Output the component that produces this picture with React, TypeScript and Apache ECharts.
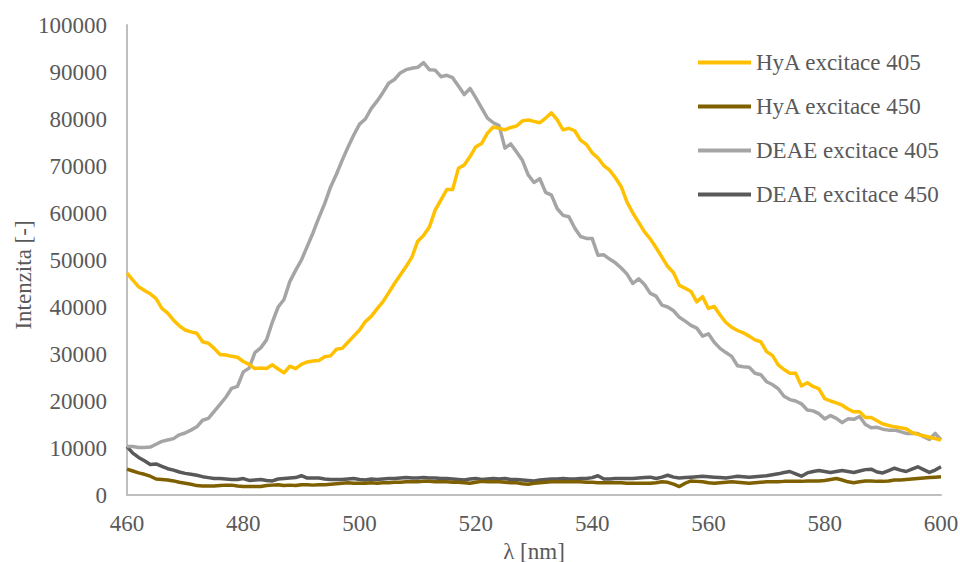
import React, { useEffect, useRef } from "react";
import * as echarts from "echarts";

const wavelengths: number[] = [];
for (let w = 460; w <= 600; w++) wavelengths.push(w);

const seriesNames = ["HyA excitace 405", "HyA excitace 450", "DEAE excitace 405", "DEAE excitace 450"];

const hyA405 = [
  47200, 45700, 44300, 43500, 42800, 41800, 39700, 38700, 37200, 36000,
  35100, 34700, 34400, 32600, 32300, 31200, 29900, 29800, 29500, 29300,
  28400, 27800, 26900, 27000, 26900, 27700, 26800, 26000, 27400, 26900,
  27800, 28300, 28500, 28600, 29400, 29600, 31000, 31200, 32500, 33800,
  35100, 36900, 38000, 39600, 41100, 43000, 45000, 46800, 48600, 50600,
  54000, 55200, 57000, 60600, 62800, 65000, 65000, 69500, 70200, 72000,
  74100, 74800, 77000, 78300, 78000, 77700, 78200, 78500, 79600, 79800,
  79500, 79200, 80200, 81300, 79800, 77700, 78000, 77500, 75500, 74600,
  72800, 71700, 70100, 69100, 67500, 65600, 62300, 60000, 58000, 56000,
  54500, 52600, 50600, 48600, 47300, 44600, 44000, 43300, 41100, 42200,
  39700, 40100, 38300, 36700, 35700, 35000, 34500, 33800, 33000, 32600,
  30500, 29700, 27700, 26700, 25900, 25900, 23200, 23900, 23100, 22600,
  20500, 20000, 19600, 19100, 18300, 17700, 17700, 16500, 16500, 15800,
  15100, 14800, 14500, 14300, 14100, 13300, 12900, 12600, 12300, 12000,
  11700,
];

const hyA450 = [
  5500, 5100, 4700, 4400, 4000, 3400, 3300, 3200, 3000, 2700,
  2500, 2300, 2000, 1900, 1900, 1900, 2000, 2100, 2100, 1900,
  1800, 1800, 1800, 1800, 2000, 2100, 2200, 2000, 2100, 2000,
  2200, 2200, 2100, 2200, 2200, 2300, 2400, 2500, 2600, 2500,
  2500, 2500, 2600, 2500, 2600, 2600, 2700, 2700, 2800, 2800,
  2800, 2900, 2900, 2800, 2800, 2800, 2700, 2700, 2600, 2500,
  2700, 2900, 2800, 2800, 2800, 2700, 2600, 2600, 2400, 2300,
  2500, 2600, 2700, 2800, 2800, 2800, 2800, 2800, 2800, 2700,
  2700, 2600, 2600, 2600, 2600, 2600, 2500, 2500, 2500, 2500,
  2500, 2600, 2800, 2700, 2300, 1800, 2500, 3000, 2900, 2800,
  2600, 2500, 2600, 2700, 2800, 2700, 2600, 2500, 2600, 2700,
  2800, 2800, 2800, 2900, 2900, 2900, 2900, 3000, 3000, 3000,
  3100, 3300, 3500, 3200, 2800, 2600, 2800, 3000, 3000, 2900,
  2900, 3000, 3200, 3200, 3300, 3400, 3500, 3600, 3700, 3800,
  3900,
];

const deae405 = [
  10300, 10300, 10100, 10100, 10200, 10800, 11400, 11700, 12000, 12800,
  13200, 13800, 14500, 15900, 16300, 17800, 19300, 20800, 22700, 23100,
  26200, 27000, 30300, 31300, 33000, 36800, 40000, 41600, 45400, 47800,
  50000, 52900, 55800, 59000, 62000, 65500, 68200, 71200, 74000, 76600,
  78900, 80000, 82200, 83800, 85600, 87600, 88400, 89800, 90500, 90800,
  91000, 92000, 90500, 90400, 89000, 89300, 88800, 87000, 85200, 86500,
  84500, 82300, 80200, 79200, 78600, 73800, 74700, 73000, 71200, 68100,
  66500, 67300, 64400, 63800, 60900, 59500, 59200, 56800, 55000, 54600,
  54600, 51000, 51100, 50200, 49400, 48300, 47000, 45000, 46000, 44800,
  42900, 42300, 40400, 40000, 39200, 37800, 37000, 36100, 35500, 33800,
  34300, 32500, 31200, 30300, 29500, 27500, 27300, 27200, 25900, 25600,
  24100, 23500, 22600, 21000, 20300, 20000, 19400, 18100, 17900, 17300,
  16200, 16900, 16300, 15400, 16200, 16100, 16700, 15000, 14300, 14400,
  14000, 13800, 13800, 13500, 13100, 13100, 13100, 12400, 11800, 13100,
  11700,
];

const deae450 = [
  10300, 8900, 8000, 7300, 6500, 6600, 6100, 5600, 5300, 4900,
  4600, 4400, 4200, 3900, 3700, 3500, 3500, 3400, 3300, 3300,
  3500, 3100, 3200, 3300, 3100, 3000, 3400, 3500, 3600, 3700,
  4100, 3600, 3600, 3600, 3400, 3300, 3300, 3300, 3400, 3500,
  3300, 3200, 3400, 3300, 3400, 3500, 3500, 3600, 3700, 3600,
  3600, 3700, 3600, 3600, 3500, 3500, 3400, 3300, 3200, 3400,
  3500, 3300, 3400, 3500, 3400, 3500, 3300, 3300, 3200, 3100,
  3000, 3200, 3300, 3400, 3400, 3500, 3400, 3400, 3500, 3500,
  3700, 4100, 3400, 3400, 3500, 3500, 3500, 3500, 3600, 3700,
  3800, 3500, 3800, 4200, 3800, 3600, 3700, 3800, 3900, 4000,
  3900, 3800, 3700, 3600, 3800, 4000, 3900, 3800, 3900, 4000,
  4100, 4300, 4500, 4800, 5000, 4500, 4000, 4700, 5000, 5200,
  5000, 4800, 5000, 5200, 5000, 4800, 5100, 5400, 5500, 4900,
  4700, 5200, 5700, 5300, 5000, 5500, 6000, 5400, 4800, 5300,
  6000,
];

const seriesValues = [hyA405, hyA450, deae405, deae450];
const seriesColors = ["#FFC000", "#7F6000", "#A5A5A5", "#595959"];

const xMin = 460;
const xMax = 600;
const xStep = 20;
const yMin = 0;
const yMax = 100000;
const yStep = 10000;

const xTitle = "λ [nm]";
const yTitle = "Intenzita [-]";

const FONT = '"Liberation Serif", "Times New Roman", serif';
const TEXT = "#595959";

export default function App() {
  const ref = useRef<HTMLDivElement>(null);
  useEffect(() => {
    if (!ref.current) return;
    const chart = echarts.init(ref.current, undefined, { renderer: "svg" });
    chart.setOption({
      animation: false,
      backgroundColor: "#ffffff",
      textStyle: { fontFamily: FONT },
      grid: {
        left: 127,
        right: 19,
        top: 25,
        bottom: 67,
        containLabel: false,
        outerBoundsMode: "none",
      },
      legend: {
        orient: "vertical",
        left: 693,
        top: 46,
        icon: "rect",
        itemWidth: 53,
        itemHeight: 4,
        itemGap: 21,
        data: seriesNames,
        textStyle: { fontFamily: FONT, fontSize: 23, color: TEXT, lineHeight: 23 },
      },
      xAxis: {
        type: "value",
        min: xMin,
        max: xMax,
        interval: xStep,
        axisLine: { show: true, lineStyle: { color: "#BFBFBF", width: 2 } },
        axisTick: { show: false },
        splitLine: { show: false },
        axisLabel: { fontFamily: FONT, fontSize: 23, color: TEXT, margin: 17 },
        name: xTitle,
        nameLocation: "middle",
        nameGap: 33,
        nameTextStyle: { fontFamily: FONT, fontSize: 23, color: TEXT },
      },
      yAxis: {
        type: "value",
        min: yMin,
        max: yMax,
        interval: yStep,
        axisLine: { show: true, lineStyle: { color: "#BFBFBF", width: 2 } },
        axisTick: { show: false },
        splitLine: { show: false },
        axisLabel: {
          fontFamily: FONT,
          fontSize: 23,
          color: TEXT,
          margin: 20,
          formatter: (v: number) => String(v),
        },
      },
      graphic: [
        {
          type: "text",
          x: 23,
          y: 275,
          rotation: Math.PI / 2,
          style: {
            text: yTitle,
            fontFamily: FONT,
            fontSize: 23,
            fill: TEXT,
            textAlign: "center",
            textVerticalAlign: "middle",
          },
        },
      ],
      series: seriesNames.map((name, i) => ({
        name,
        type: "line",
        showSymbol: false,
        symbol: "none",
        color: seriesColors[i],
        lineStyle: { color: seriesColors[i], width: 3.5, join: "round" },
        data: wavelengths.map((w, k) => [w, seriesValues[i][k]]),
        z: 10 - i,
      })),
    });
    return () => chart.dispose();
  }, []);
  return (
    <div
      ref={ref}
      style={{ position: "absolute", left: 0, top: 0, width: 960, height: 562 }}
    />
  );
}
